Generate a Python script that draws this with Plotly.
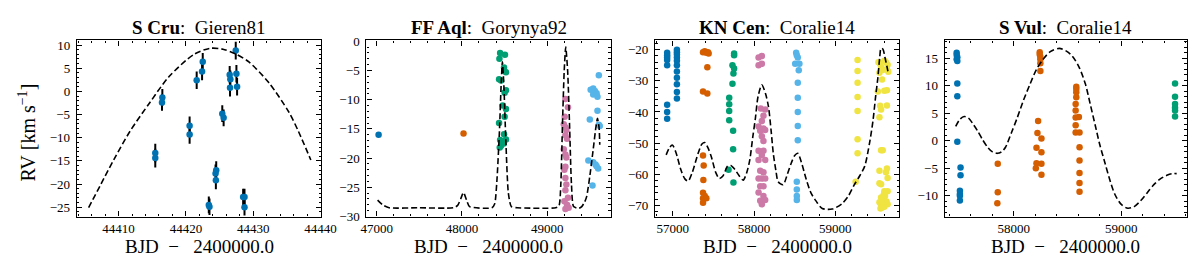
import plotly.graph_objects as go

# ---------------- data ----------------
# Panel 1: S Cru (Gieren81)
t1 = [44415.45, 44415.45, 44416.5, 44416.45, 44420.55, 44420.55, 44421.6, 44422.4, 44422.5,
      44423.4, 44423.5, 44424.4, 44424.5, 44424.45, 44425.4, 44425.6, 44426.5, 44426.6, 44426.55,
      44427.4, 44427.5, 44427.6, 44428.5, 44428.7, 44428.7]
rv1 = [-13.3, -14.4, -1.3, -2.4, -7.4, -9.3, 2.4, 4.3, 6.4,
       -24.5, -24.9, -17.7, -17.0, -19.2, -4.8, -5.7, 3.6, 2.6, 0.8,
       8.8, 3.8, 1.0, -22.8, -22.8, -25.0]
err1 = [2.0, 2.0, 1.8, 1.8, 2.0, 2.0, 1.9, 1.9, 1.9,
        1.8, 1.8, 1.9, 1.9, 1.9, 1.8, 1.8, 1.9, 1.9, 1.9,
        1.9, 1.9, 1.9, 1.8, 1.8, 1.8]
model1_t = [44405.55, 44407.35, 44409.3, 44411.7, 44414.6, 44417.5, 44421.2, 44423.6, 44425.5,
            44427.5, 44429.4, 44432.3, 44435.3, 44436.7, 44438.55]
model1_rv = [-25.1, -20.1, -14.7, -8.6, -2.5, 3.2, 8.0, 9.3, 9.1,
             8.0, 6.3, 1.9, -4.5, -8.6, -14.8]

# Panel 2: FF Aql (Gorynya92) - groups
t2 = [
    [47023],
    [48019],
    [48448, 48440, 48505, 48436, 48494, 48498, 48517, 48459, 48517, 48501, 48478, 48517, 48501,
     48436, 48448, 48494, 48517, 48459, 48444, 48490],
    [49214, 49244, 49206, 49195, 49214, 49225, 49214, 49233, 49195, 49214, 49225, 49214, 49202,
     49214, 49225, 49214, 49244, 49202, 49233, 49214, 49252],
    [49606, 49540, 49510, 49560, 49580, 49540, 49590, 49590, 49500, 49606, 49617, 49483, 49540,
     49567, 49580, 49598, 49532],
]
rv2 = [
    [-16.0],
    [-15.8],
    [-2.0, -3.0, -2.3, -6.5, -4.5, -5.1, -5.3, -6.7, -8.4, -8.8, -11.0, -11.6, -12.9,
     -14.0, -16.9, -15.9, -16.8, -17.9, -18.2, -17.5],
    [-9.9, -11.3, -12.9, -14.2, -14.7, -15.2, -16.1, -16.7, -18.5, -19.4, -19.9, -21.5, -22.0,
     -23.4, -24.5, -25.5, -26.8, -27.4, -28.0, -28.7, -28.5],
    [-5.8, -8.1, -8.3, -8.5, -8.9, -9.1, -9.5, -11.9, -13.4, -14.3, -14.5, -20.4, -20.7,
     -21.1, -21.4, -21.8, -24.7],
]
model2_t = [47011, 47069, 47146, 47500, 47900, 47950, 47985, 48019, 48055, 48090, 48352, 48385,
            48410, 48440, 48460, 48475, 48492, 48515, 48545, 48580, 48650, 49100, 49138, 49160,
            49180, 49200, 49218, 49240, 49262, 49285, 49310, 49370, 49406, 49440, 49463, 49502,
            49540, 49571, 49590, 49609, 49617]
model2_rv = [-27.2, -28.0, -28.5, -28.5, -28.5, -28.1, -27.0, -25.9, -27.2, -28.3, -28.5, -27.8,
             -24.0, -15.5, -7.5, -3.5, -7.5, -16.9, -26.0, -28.3, -28.5, -28.5, -28.2, -24.5,
             -14.0, -5.0, -1.0, -5.0, -14.0, -24.5, -28.3, -28.6, -28.3, -27.5, -26.6, -22.9,
             -18.5, -14.8, -13.2, -14.8, -17.7]

# Panel 3: KN Cen (Coralie14)
t3 = [
    [56932, 56932, 56932, 56932, 56932, 56932, 56932, 56932,
     57052, 57052, 57052, 57052, 57052, 57052, 57052, 57052, 57052, 57052, 57052],
    [57373, 57394, 57414, 57434, 57442, 57426, 57373, 57426, 57373, 57381, 57377, 57373, 57394,
     57373, 57414, 57373],
    [57755, 57755, 57735, 57755, 57747, 57735, 57695, 57695, 57695, 57695, 57743, 57743, 57687,
     57747],
    [58096, 58056, 58056, 58096, 58084, 58137, 58116, 58096, 58056, 58116, 58076, 58137, 58096,
     58116, 58056, 58116, 58096, 58056, 58137, 58076, 58116, 58096, 58056, 58137, 58076, 58116,
     58056, 58116, 58076, 58096, 58137],
    [58518, 58526, 58538, 58506, 58558, 58550, 58538, 58538, 58538, 58538, 58538, 58526, 58526,
     58526, 58526],
    [59273, 59273, 59273, 59273, 59273, 59273, 59273, 59249,
     59530, 59550, 59602, 59622, 59642, 59562, 59634, 59542, 59582, 59651, 59574, 59522, 59602,
     59634, 59550, 59562, 59634, 59542, 59562, 59582, 59542, 59634, 59622, 59562, 59542, 59642,
     59602, 59642, 59562, 59582, 59602, 59542, 59622, 59562, 59642, 59602, 59582, 59610, 59570,
     59630, 59595, 59555],
]
rv3 = [
    [-21.0, -21.8, -22.5, -23.3, -25.0, -37.7, -40.0, -42.2,
     -20.0, -20.8, -21.5, -22.5, -23.5, -25.0, -27.0, -29.0, -31.1, -33.6, -35.7],
    [-20.8, -20.5, -21.0, -20.8, -21.2, -25.6, -33.4, -34.1, -54.0, -57.2, -61.9, -66.0, -67.0,
     -67.7, -67.7, -69.2],
    [-21.2, -21.8, -25.0, -26.0, -27.6, -30.9, -35.4, -37.5, -39.7, -42.7, -46.0, -52.0, -58.6,
     -62.7],
    [-22.0, -22.5, -25.0, -24.5, -38.9, -39.2, -41.2, -42.9, -44.7, -45.3, -46.0, -45.8, -47.8,
     -49.3, -52.5, -52.5, -53.8, -55.4, -55.4, -58.9, -59.4, -61.4, -61.4, -61.4, -63.9, -63.9,
     -65.9, -67.0, -68.5, -69.7, -68.3],
    [-21.0, -21.8, -22.5, -24.5, -24.5, -26.6, -30.6, -35.4, -40.0, -44.5, -49.1, -62.4, -64.9,
     -67.0, -68.3],
    [-23.3, -26.8, -30.6, -35.2, -39.7, -48.8, -53.3, -62.4,
     -24.0, -24.5, -23.5, -24.0, -24.8, -25.5, -26.3, -27.4, -26.5, -27.1, -29.6, -33.4, -33.2,
     -33.0, -38.0, -39.2, -37.9, -41.7, -52.3, -52.3, -58.9, -58.2, -59.4, -63.2, -62.9, -61.2,
     -65.5, -65.5, -67.5, -68.0, -68.5, -69.0, -69.5, -70.0, -69.7, -70.5, -69.0, -67.0, -70.8,
     -68.8, -66.5, -71.0],
]
model3_t = [56920, 56960, 56995, 57040, 57100, 57150, 57190, 57240, 57313, 57360, 57394, 57430,
            57474, 57530, 57574, 57620, 57675, 57715, 57765, 57815, 57867, 57910, 57948, 57985,
            58016, 58050, 58096, 58140, 58177, 58210, 58237, 58270, 58297, 58357, 58410, 58458,
            58500, 58538, 58580, 58639, 58700, 58759, 58839, 58960, 59080, 59160, 59230, 59300,
            59361, 59420, 59461, 59495, 59522, 59545, 59562, 59585, 59610, 59635, 59651]
model3_rv = [-53.8, -51.5, -50.6, -53.0, -58.5, -61.5, -62.2, -59.5, -53.3, -50.3, -49.8, -51.3,
             -54.3, -59.5, -61.4, -60.5, -57.4, -57.2, -58.5, -60.4, -61.9, -59.5, -55.4, -48.0,
             -42.2, -35.0, -31.3, -34.0, -38.2, -46.0, -53.3, -59.0, -62.4, -63.4, -60.0, -56.4,
             -54.0, -53.3, -56.0, -61.4, -66.0, -68.5, -71.0, -71.2, -69.5, -67.0, -63.5, -60.5,
             -57.4, -50.0, -43.1, -35.0, -29.1, -22.5, -19.5, -19.8, -22.5, -25.5, -27.6]

# Panel 4: S Vul (Coralie14)
t4 = [
    [57470, 57470, 57476, 57470, 57476, 57476, 57476, 57476, 57506, 57506, 57500, 57500, 57500,
     57500],
    [57852, 57852, 57848,
     58242, 58242, 58248, 58248, 58248, 58248, 58227, 58221, 58258, 58212, 58258, 58212, 58258,
     58206, 58258,
     58582, 58582, 58582, 58582, 58576, 58576, 58576, 58606, 58576, 58576, 58612, 58612, 58612,
     58612, 58612, 58612],
    [59500, 59500, 59500, 59500, 59500, 59500],
]
rv4 = [
    [16.0, 15.6, 15.2, 14.8, 14.5, 10.4, 8.1, -0.2, -4.9, -6.3, -9.1, -9.7, -10.0, -10.9],
    [-4.2, -9.4, -11.4,
     16.1, 15.7, 15.3, 14.8, 14.1, 12.7, 3.6, 1.4, 0.4, -1.3, -2.1, -4.1, -4.2, -5.0, -6.2,
     9.8, 9.4, 8.8, 7.9, 6.7, 5.5, 4.2, 4.3, 2.8, 1.5, 1.5, -1.2, -3.6, -5.9, -7.7, -9.3],
    [10.4, 8.0, 6.7, 6.0, 5.5, 4.4],
]
model4_t = [57461, 57500, 57540, 57580, 57630, 57667, 57710, 57758, 57800, 57849, 57890, 57924,
            57980, 58030, 58090, 58152, 58210, 58273, 58340, 58424, 58490, 58545, 58610, 58667,
            58710, 58758, 58800, 58848, 58890, 58939, 59000, 59061, 59120, 59182, 59240, 59303,
            59360, 59424, 59470, 59515]
model4_rv = [2.6, 3.9, 4.4, 4.1, 2.8, 1.7, 0.2, -1.2, -2.0, -2.3, -2.0, -1.2,
             1.5, 4.0, 7.3, 10.3, 12.9, 14.8, 16.2, 16.8, 16.3, 15.4, 13.3, 10.3,
             6.8, 2.8, -0.7, -4.0, -6.9, -9.7, -11.6, -12.3, -12.0, -10.9, -9.5, -8.0,
             -7.0, -6.3, -6.0, -6.0]

titles = [("S Cru", "Gieren81"), ("FF Aql", "Gorynya92"), ("KN Cen", "Coralie14"), ("S Vul", "Coralie14")]
colors = ["#0072B2", "#D55E00", "#009E73", "#CC79A7", "#56B4E9", "#F0E442"]

# ---------------- layout geometry ----------------
W, H = 1200, 257
x_px = [(64, 313), (359, 608), (653, 902), (948, 1195)]
top_px, bot_px = 27, 214
xranges = [[44403.8, 44440.1], [46880, 49747], [56783, 59788], [57358, 59612]]
yranges = [[-27.0, 11.0], [-30.0, 0.15], [-73.6, -17.0], [-13.8, 18.25]]
xticks = [[44410, 44420, 44430, 44440], [47000, 48000, 49000], [57000, 58000, 59000], [58000, 59000]]
xminor = [2, 200, 200, 200]
ymajor = [5, 5, 10, 5]
yminor = [1, 1, 2, 1]

FONT = "Liberation Serif, Times New Roman, DejaVu Serif, serif"
fig = go.Figure()

marker_size = 6.5
dash = "6px,3px"

# panel 1
fig.add_trace(go.Scatter(x=t1, y=rv1, mode="markers",
                         marker=dict(color=colors[0], size=marker_size),
                         error_y=dict(type="data", array=err1, color="black", thickness=2, width=0),
                         xaxis="x", yaxis="y", showlegend=False))
fig.add_trace(go.Scatter(x=model1_t, y=model1_rv, mode="lines", line=dict(color="black", width=1.6, dash=dash, shape="spline", smoothing=0.8),
                         xaxis="x", yaxis="y", showlegend=False))

# panel 2
for i, (tt, rr) in enumerate(zip(t2, rv2)):
    fig.add_trace(go.Scatter(x=tt, y=rr, mode="markers", marker=dict(color=colors[i], size=marker_size),
                             xaxis="x2", yaxis="y2", showlegend=False))
fig.add_trace(go.Scatter(x=model2_t, y=model2_rv, mode="lines", line=dict(color="black", width=1.6, dash=dash, shape="spline", smoothing=0.6),
                         xaxis="x2", yaxis="y2", showlegend=False))

# panel 3
for i, (tt, rr) in enumerate(zip(t3, rv3)):
    fig.add_trace(go.Scatter(x=tt, y=rr, mode="markers", marker=dict(color=colors[i], size=marker_size),
                             xaxis="x3", yaxis="y3", showlegend=False))
fig.add_trace(go.Scatter(x=model3_t, y=model3_rv, mode="lines", line=dict(color="black", width=1.6, dash=dash, shape="spline", smoothing=0.8),
                         xaxis="x3", yaxis="y3", showlegend=False))

# panel 4
for i, (tt, rr) in enumerate(zip(t4, rv4)):
    fig.add_trace(go.Scatter(x=tt, y=rr, mode="markers", marker=dict(color=colors[i], size=marker_size),
                             xaxis="x4", yaxis="y4", showlegend=False))
fig.add_trace(go.Scatter(x=model4_t, y=model4_rv, mode="lines", line=dict(color="black", width=1.6, dash=dash, shape="spline", smoothing=0.8),
                         xaxis="x4", yaxis="y4", showlegend=False))

common = dict(showline=True, linecolor="black", linewidth=1.2, mirror="allticks",
              ticks="inside", ticklen=5, tickwidth=1, tickcolor="black",
              showgrid=False, zeroline=False,
              tickfont=dict(family=FONT, size=13, color="black"))

layout = dict(width=W, height=H, margin=dict(l=0, r=0, t=0, b=0),
              paper_bgcolor="white", plot_bgcolor="white", showlegend=False)
yd = [1 - bot_px / H, 1 - top_px / H]
annotations = []
for k in range(4):
    sfx = "" if k == 0 else str(k + 1)
    xd = [x_px[k][0] / W, x_px[k][1] / W]
    layout["xaxis" + sfx] = dict(common, domain=xd, range=xranges[k], tickmode="array",
                                 tickvals=xticks[k], ticktext=[str(v) for v in xticks[k]],
                                 anchor="y" + sfx, ticklabelstandoff=0,
                                 minor=dict(ticks="inside", ticklen=2.5, tickwidth=0.8, tickcolor="black", dtick=xminor[k], tick0=0, showgrid=False))
    layout["yaxis" + sfx] = dict(common, domain=yd, range=yranges[k], dtick=ymajor[k], tick0=0,
                                 anchor="x" + sfx, ticklabelstandoff=3,
                                 minor=dict(ticks="inside", ticklen=2.5, tickwidth=0.8, tickcolor="black", dtick=yminor[k], tick0=0, showgrid=False))
    cx = (x_px[k][0] + x_px[k][1]) / 2 / W
    b, n = titles[k]
    annotations.append(dict(text=f"<b>{b}</b>:\u00a0\u00a0{n}", x=cx, y=1 - 13.5 / H, xref="paper", yref="paper",
                            xanchor="center", yanchor="middle", showarrow=False,
                            font=dict(family=FONT, size=19, color="black")))
    annotations.append(dict(text="BJD\u00a0\u00a0\u2212\u00a0\u00a0\u00a02400000.0", x=cx, y=1 - 246 / H, xref="paper", yref="paper",
                            xanchor="center", yanchor="middle", showarrow=False,
                            font=dict(family=FONT, size=19, color="black")))
annotations.append(dict(text="RV\u00a0[km\u00a0s<sup>\u22121</sup>]", x=13 / W, y=1 - 125 / H, xref="paper", yref="paper",
                        xanchor="center", yanchor="middle", showarrow=False, textangle=-90,
                        font=dict(family=FONT, size=20, color="black")))
layout["annotations"] = annotations
fig.update_layout(**layout)
fig.write_html("out.html")
